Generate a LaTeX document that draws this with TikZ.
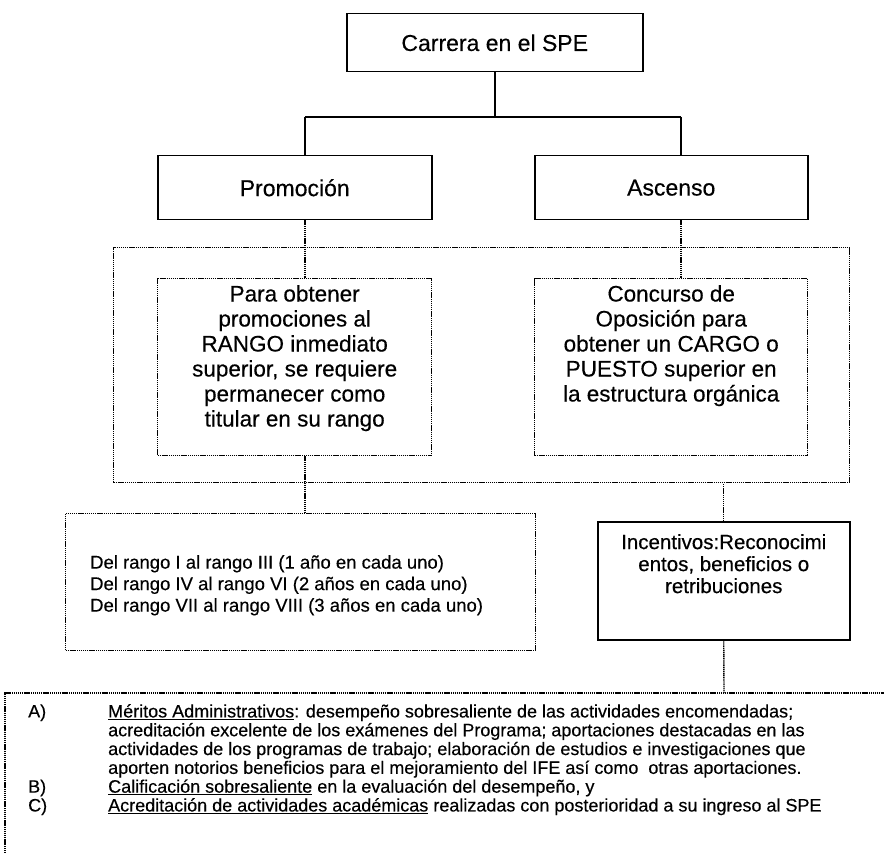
\documentclass[tikz,border=0pt]{standalone}
\usepackage{fontspec}
\setmainfont{Liberation Sans}[FakeBold=0.35]
\newcommand{\headfont}{\fontsize{23}{26}\selectfont}
\newcommand{\boxfont}{\fontsize{22.5}{25}\selectfont}
\newcommand{\rangefont}{\fontsize{18.5}{21.5}\selectfont}
\newcommand{\incfont}{\fontsize{20.5}{22}\selectfont}
\newcommand{\notefont}{\fontsize{18}{18.5}\selectfont}
\begin{document}
\begin{tikzpicture}[x=1pt,y=-1pt,
  sized/.style 2 args={minimum width=#1pt, minimum height=#2pt},
  solidbox/.style={draw, line width=1.5pt, inner sep=0pt, anchor=north west},
  dotbox/.style={draw, line width=1.4pt, dash pattern=on 1.2pt off 0.7pt, inner sep=0pt, anchor=north west},
  solidline/.style={line width=1.5pt},
  dotline/.style={line width=1.4pt, dash pattern=on 1.2pt off 0.7pt},
  boxtext/.style={anchor=north, inner sep=0pt, align=center, font=\boxfont}]
\useasboundingbox (0,0) rectangle (884,853);

% top level
\node[solidbox, sized={296}{58}, font=\headfont] (carrera) at (346,13) {Carrera en el SPE};
\node[solidbox, sized={274}{64}, font=\headfont] (prom) at (157,155) {Promoción};
\node[solidbox, sized={273}{64}, font=\headfont] (asc) at (534,155) {Ascenso};

% branching connector
\coordinate (pjoin) at (305,117);
\coordinate (ajoin) at (681,117);
\draw[solidline] (carrera.south) -- (carrera.south |- pjoin);
\draw[solidline] (pjoin) -- (ajoin);
\draw[solidline] (pjoin) -- (pjoin |- prom.north);
\draw[solidline] (ajoin) -- (ajoin |- asc.north);

% grouping frame and requirement boxes
\node[dotbox, sized={736}{235}] (group) at (113,247) {};
\node[dotbox, sized={274}{177}] (pinner) at (157,278) {};
\node[dotbox, sized={273}{177}] (ainner) at (534,278) {};
\node[boxtext] (ptext) at ([yshift=-7pt]pinner.north)
  {Para obtener\\promociones al\\RANGO inmediato\\superior, se requiere\\permanecer como\\titular en su rango};
\node[boxtext] (atext) at ([yshift=-7pt]ainner.north)
  {Concurso de\\Oposición para\\obtener un CARGO o\\PUESTO superior en\\la estructura orgánica};

\draw[dotline] (pjoin |- prom.south) -- (pjoin |- pinner.north);
\draw[dotline] (ajoin |- asc.south) -- (ajoin |- ainner.north);

% ranks and incentives
\node[dotbox, sized={470}{137}] (range) at (65,513) {};
\node[anchor=north west, inner sep=0pt, align=left, font=\rangefont] (rangetext) at (90,555)
  {Del rango I al rango III (1 año en cada uno)\\Del rango IV al rango VI (2 años en cada uno)\\Del rango VII al rango VIII (3 años en cada uno)};
\draw[dotline] (pjoin |- pinner.south) -- (pjoin |- range.north);

\node[solidbox, sized={252}{118}] (incent) at (597,521) {};
\node[anchor=north, inner sep=0pt, align=center, font=\incfont] (inctext) at ([yshift=-13pt]incent.north)
  {Incentivos:Reconocimi\\entos, beneficios o\\retribuciones};
\draw[dotline] (incent.north) -- (incent.north |- group.south);

% merit notes
\coordinate (notescorner) at (5,693);
\coordinate (notesdrop) at (724,693);
\draw[dotline] (5,853) -- (notescorner) -- (884,693);
\draw[dotline] (incent.south) -- (notesdrop);
\node[anchor=north west, inner sep=0pt, font=\notefont] (notes) at (28,704)
  {\begin{tabular}{@{}p{80pt}@{}l@{}}
   A) & \underline{Méritos Administrativos}: desempeño sobresaliente de las actividades encomendadas;\\
      & acreditación excelente de los exámenes del Programa; aportaciones destacadas en las\\
      & actividades de los programas de trabajo; elaboración de estudios e investigaciones que\\
      & aporten notorios beneficios para el mejoramiento del IFE así como\ \ otras aportaciones.\\
   B) & \underline{Calificación sobresaliente} en la evaluación del desempeño, y\\
   C) & \underline{Acreditación de actividades académicas} realizadas con posterioridad a su ingreso al SPE
   \end{tabular}};
\end{tikzpicture}
\end{document}
